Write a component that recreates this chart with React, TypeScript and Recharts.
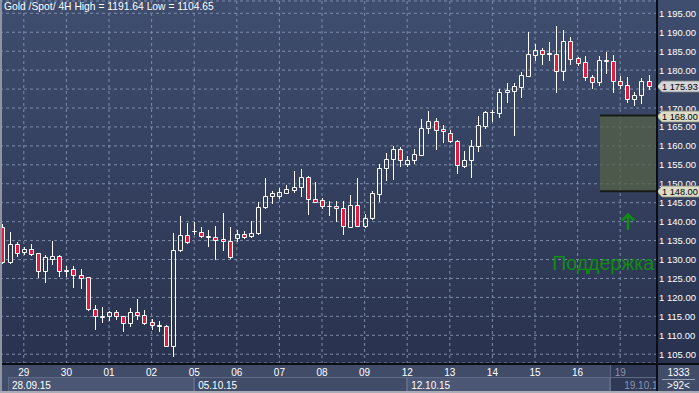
import React from 'react';
import { ComposedChart, Bar, XAxis, YAxis, CartesianGrid, ReferenceArea, ReferenceLine, ReferenceDot } from 'recharts';

const title = 'Gold /Spot/ 4H High = 1191.64 Low = 1104.65';

const opens = [1138.5,1129.4,1134.1,1132.1,1132.7,1131.6,1127.0,1130.2,1130.9,1127.0,1127.5,1125.9,1125.3,1116.9,1114.9,1115.0,1116.1,1115.0,1113.3,1116.1,1115.3,1113.5,1112.6,1112.4,1107.3,1132.5,1136.5,1137.4,1137.2,1136.1,1135.9,1135.4,1134.9,1135.6,1136.7,1136.1,1136.9,1143.8,1146.7,1146.9,1147.6,1148.4,1149.1,1151.7,1145.9,1145.6,1144.1,1144.0,1143.5,1138.7,1144.3,1138.9,1140.9,1147.4,1154.1,1156.5,1159.1,1155.1,1156.2,1157.7,1164.6,1166.5,1164.5,1163.3,1161.2,1154.8,1156.2,1160.1,1165.3,1168.9,1168.8,1174.2,1174.6,1175.6,1178.5,1184.1,1185.3,1184.3,1184.3,1179.9,1187.6,1183.1,1182.1,1178.3,1176.9,1182.6,1182.3,1177.0,1176.0,1172.3,1173.4,1177.0];
const highs = [1139.5,1137.3,1134.6,1133.3,1134.1,1131.8,1131.1,1134.9,1131.2,1128.3,1128.3,1127.5,1125.4,1117.9,1117.5,1116.3,1116.6,1115.1,1117.3,1119.6,1116.6,1114.2,1113.7,1112.6,1137.1,1141.5,1139.7,1139.9,1138.5,1137.8,1138.8,1142.3,1138.6,1137.8,1137.5,1140.1,1145.2,1151.5,1148.0,1149.0,1149.8,1153.4,1154.0,1152.1,1150.5,1146.3,1145.4,1145.4,1145.4,1147.1,1151.5,1141.9,1148.0,1155.3,1158.0,1160.0,1159.6,1157.3,1159.2,1167.1,1169.2,1167.3,1165.5,1164.1,1161.6,1158.6,1161.6,1167.8,1169.1,1169.5,1175.1,1176.7,1176.5,1179.5,1190.1,1186.9,1185.8,1187.4,1191.64,1190.6,1188.7,1183.5,1183.6,1178.7,1183.7,1184.8,1184.0,1178.5,1178.1,1174.2,1177.9,1178.7];
const lows = [1129.0,1129.2,1131.0,1131.5,1131.3,1125.5,1124.1,1128.8,1125.7,1125.7,1122.8,1122.6,1116.8,1111.7,1113.5,1114.0,1114.4,1111.0,1112.5,1114.4,1113.1,1111.7,1111.2,1107.2,1104.65,1132.3,1134.4,1136.8,1135.9,1133.7,1130.2,1132.6,1130.5,1135.0,1135.6,1136.0,1136.7,1143.7,1144.8,1146.3,1147.5,1147.8,1146.9,1141.9,1145.2,1143.7,1141.7,1140.2,1136.7,1138.5,1138.8,1138.7,1140.7,1145.5,1151.0,1151.2,1154.8,1154.8,1155.6,1157.6,1163.3,1159.3,1160.9,1161.1,1152.9,1154.5,1151.9,1158.7,1164.8,1166.6,1167.6,1171.6,1163.0,1173.0,1178.4,1182.7,1181.7,1182.7,1174.3,1177.4,1181.7,1181.4,1177.4,1175.3,1176.2,1179.2,1174.3,1175.4,1171.6,1170.9,1171.4,1175.0];
const closes = [1129.4,1134.1,1131.8,1132.7,1131.5,1127.0,1130.6,1130.9,1127.0,1127.2,1125.8,1125.2,1116.9,1115.0,1115.1,1116.1,1115.0,1113.3,1116.1,1115.3,1113.3,1112.6,1112.5,1107.3,1132.5,1136.5,1134.5,1137.6,1136.1,1136.0,1135.2,1134.8,1130.6,1136.7,1136.0,1137.0,1143.8,1146.7,1147.6,1147.7,1148.6,1149.1,1151.7,1145.9,1145.3,1144.1,1144.0,1143.7,1138.8,1144.3,1138.9,1140.9,1147.5,1154.1,1156.5,1159.1,1156.2,1156.2,1157.8,1164.7,1166.5,1164.3,1163.9,1161.2,1154.9,1156.2,1159.9,1165.5,1168.9,1169.0,1174.2,1174.8,1175.8,1178.7,1184.3,1185.3,1184.3,1184.4,1179.9,1187.6,1183.0,1182.0,1178.3,1176.9,1182.6,1182.4,1177.0,1176.0,1172.3,1173.4,1177.0,1175.93];

const dayTickIdx = [3, 9, 15, 21, 27, 33, 39, 45, 51, 57, 63, 69, 75, 81, 87];
const dayLabels = ['29', '30', '01', '02', '05', '06', '07', '08', '09', '12', '13', '14', '15', '16', '19'];
const weekStartIdx = [-3, 27, 57, 87];
const weekLabels = ['28.09.15', '05.10.15', '12.10.15', '19.10.15'];
const priceTicks = [1105, 1110, 1115, 1120, 1125, 1130, 1135, 1140, 1145, 1150, 1155, 1160, 1165, 1170, 1175, 1180, 1185, 1190, 1195];
const lastPrice = 1175.93;
const supportLevels = [1168, 1148];
const priceTags = [
  { value: lastPrice, bg: '#d3d7db' },
  { value: supportLevels[0], bg: '#dddcc6' },
  { value: supportLevels[1], bg: '#dddcc6' },
];
const supportStartIdx = 84.15;
const supportLabel = 'Поддержка';
const supportLabelPos = { x: 84.6, y: 1129.1 };
const arrowPos = { x: 88.1, y: 1140 };
const barsTotal = '1333';
const barsVisible = '>92<';

const X_DOMAIN: [number, number] = [-0.352, 92.18];
const Y_DOMAIN: [number, number] = [1102.68, 1198.25];
const FONT = "'Liberation Sans', Arial, sans-serif";
const RED = '#e31b3c';

const data = opens.map((o, i) => ({ i, o, h: highs[i], l: lows[i], c: closes[i], range: [lows[i], highs[i]] }));

const fmtPrice = (v: number) => {
  const [ip, dp] = v.toFixed(2).split('.');
  return ip.replace(/\B(?=(\d{3})+(?!\d))/g, ' ') + '.' + dp;
};

const Candle = (props: any) => {
  const { x, y, width, height, payload } = props;
  if (x == null || y == null) return null;
  const top = Math.min(y, y + height);
  const bot = Math.max(y, y + height);
  const { o, h, l, c } = payload;
  const span = h - l || 1;
  const py = (v: number) => top + ((h - v) / span) * (bot - top);
  const cx = Math.round(x + width / 2) + 0.5;
  const up = c >= o;
  const bt = Math.round(py(Math.max(o, c))) + 0.5;
  const bb = Math.round(py(Math.min(o, c))) + 0.5;
  const t = Math.round(top);
  const b = Math.round(bot) + 1;
  return (
    <g>
      <line x1={cx} x2={cx} y1={t} y2={bt} stroke="#fff" strokeWidth={1} />
      <line x1={cx} x2={cx} y1={bb} y2={b} stroke="#fff" strokeWidth={1} />
      <path d={`M${cx - 2} ${bt}H${cx + 2}V${bb}H${cx - 2}Z`} fill={up ? 'none' : RED} stroke="#fff" strokeWidth={1} />
    </g>
  );
};

const YTick = (p: any) => {
  const v = p.payload.value;
  const isTop = v === priceTicks[priceTicks.length - 1];
  const hidden = priceTags.some((t) => Math.abs(t.value - v) < 1.5);
  let tags: any = null;
  if (isTop) {
    const H = typeof p.height === 'number' && p.height > 100 ? p.height : 362;
    const k = H / (Y_DOMAIN[1] - Y_DOMAIN[0]);
    const py = (val: number) => p.y + (v - val) * k;
    const x0 = p.x - 2;
    tags = priceTags.map((t) => {
      const yc = Math.round(py(t.value)) + 0.5;
      return (
        <g key={t.value}>
          <path d={`M${x0} ${yc}L${x0 + 5} ${yc - 5.5}H${x0 + 43}V${yc + 5.5}H${x0 + 5}Z`} fill={t.bg} stroke="#85857c" strokeWidth={0.8} />
          <text x={x0 + 5} y={yc + 3.5} fill="#000" fontSize={9.2} fontFamily={FONT}>{fmtPrice(t.value)}</text>
        </g>
      );
    });
  }
  return (
    <g>
      {!hidden && (
        <text x={p.x} y={p.y} dy={3.5} fill="#ffffff" fontSize={9.5} fontFamily={FONT}>
          {fmtPrice(v)}
        </text>
      )}
      {tags}
    </g>
  );
};

const XTick = (props: any) => {
  const { x, y, payload, index } = props;
  const axisW = typeof props.width === 'number' && props.width > 100 ? props.width : 657;
  const k = axisW / (X_DOMAIN[1] - X_DOMAIN[0]);
  const axisLeft = x - (payload.value - X_DOMAIN[0]) * k;
  const axisRight = axisLeft + axisW;
  const px = (v: number) => axisLeft + (v - X_DOMAIN[0]) * k;
  const di = dayTickIdx.indexOf(payload.value);
  const n = weekStartIdx.length;
  const future = payload.value >= weekStartIdx[n - 1];
  let strip: any = null;
  if (index === 0) {
    const starts = weekStartIdx.map((s, w) => {
      let sx = Math.max(px(s), axisLeft + 8);
      if (w === n - 1) sx = Math.min(sx, axisRight - 47);
      return Math.round(sx);
    });
    strip = (
      <g>
        <rect x={starts[n - 1]} y={y} width={axisRight - starts[n - 1]} height={28} fill="#1c2440" fillOpacity={0.45} />
        <line x1={starts[n - 1] + 0.5} x2={starts[n - 1] + 0.5} y1={y} y2={y + 28} stroke="#5d6985" />
        {weekLabels.map((lab, w) => {
          const x0 = starts[w];
          const x1 = w < n - 1 ? starts[w + 1] : Math.round(axisRight);
          const textX = Math.max(px(weekStartIdx[w]), axisLeft + 8) + 4;
          const last = w === n - 1;
          return (
            <g key={lab}>
              <rect x={x0 + 0.5} y={y + 14.5} width={Math.max(0, x1 - x0 - 1)} height={14} fill={w % 2 === 0 && !last ? '#4b5774' : 'none'} stroke="#5d6985" strokeWidth={1} />
              <text x={textX} y={y + 25.5} fill={last ? '#8b95ab' : '#ffffff'} fontSize={10} fontFamily={FONT}>{lab}</text>
            </g>
          );
        })}
      </g>
    );
  }
  return (
    <g>
      {strip}
      <text x={x} y={y + 12.5} textAnchor="middle" fill={future ? '#8b95ab' : '#ffffff'} fontSize={10} fontFamily={FONT}>
        {di >= 0 ? dayLabels[di] : ''}
      </text>
    </g>
  );
};

const ArrowShape = (p: any) => {
  const { cx, cy } = p;
  return (
    <path d={`M${cx} ${cy - 7}V${cy + 8}M${cx - 6} ${cy - 1}L${cx} ${cy - 7}L${cx + 6} ${cy - 1}`} stroke="#128c14" strokeWidth={2.6} fill="none" />
  );
};

const LabelShape = (p: any) => (
  <text x={p.cx} y={p.cy} dy={7} textAnchor="middle" fill="#128c14" fontSize={19.5} fontFamily={FONT}>
    {supportLabel}
  </text>
);

export default function App() {
  return (
    <div style={{ position: 'fixed', left: 0, top: 0, width: 699, height: 393, overflow: 'hidden',
      background: 'linear-gradient(to bottom, #3f4d6e 0px, #29334f 363px, #404c68 363px, #404c68 393px)' }}>
      <ComposedChart width={699} height={393} data={data} margin={{ top: 1, right: 0, bottom: 0, left: 0 }}>
        <CartesianGrid stroke="#7d8cab" strokeDasharray="3 3" fill="none" />
        <XAxis dataKey="i" type="number" domain={X_DOMAIN} allowDataOverflow ticks={dayTickIdx} interval={0}
          height={30} tickSize={0} tickMargin={0} axisLine={false} tickLine={false} tick={<XTick />} />
        <ReferenceArea x1={supportStartIdx} x2={X_DOMAIN[1]} y1={supportLevels[1]} y2={supportLevels[0]}
          fill="#566244" fillOpacity={0.72} stroke="none" />
        {supportLevels.map((lv) => (
          <ReferenceLine key={'s' + lv} segment={[{ x: supportStartIdx, y: lv }, { x: X_DOMAIN[1], y: lv }]} stroke="#161b16" strokeWidth={2} />
        ))}
        <Bar dataKey="range" barSize={5} isAnimationActive={false} shape={<Candle />} />
        <ReferenceDot x={arrowPos.x} y={arrowPos.y} r={0} shape={<ArrowShape />} />
        <ReferenceDot x={supportLabelPos.x} y={supportLabelPos.y} r={0} shape={<LabelShape />} />
        <YAxis orientation="right" width={42} type="number" domain={Y_DOMAIN} allowDataOverflow ticks={priceTicks}
          interval={0} tickSize={0} tickMargin={2} axisLine={false} tickLine={false} tick={<YTick />} />
      </ComposedChart>
      <div style={{ position: 'absolute', left: 4, top: 1, color: '#fff', fontFamily: FONT, fontSize: 10.3, lineHeight: '12px', whiteSpace: 'nowrap' }}>
        {title}
      </div>
      <div style={{ position: 'absolute', left: 0, top: 363, width: 699, height: 2, background: '#0a0d14' }} />
      <div style={{ position: 'absolute', left: 656, top: 0, width: 2, height: 393, background: '#0a0d14' }} />
      <div style={{ position: 'absolute', left: 658, top: 365, width: 41, height: 26, background: '#404c68', color: '#fff',
        fontFamily: FONT, fontSize: 10, textAlign: 'center' }}>
        <div style={{ lineHeight: '12px', marginTop: 2 }}>{barsTotal}</div>
        <div style={{ height: 1, background: '#9aa3b5', margin: '0 4px' }} />
        <div style={{ lineHeight: '11px' }}>{barsVisible}</div>
      </div>
      <div style={{ position: 'absolute', left: 0, top: 0, width: 2, height: 393, background: '#8d94a3' }} />
      <div style={{ position: 'absolute', left: 0, top: 391, width: 699, height: 2, background: '#a7acb7' }} />
    </div>
  );
}
